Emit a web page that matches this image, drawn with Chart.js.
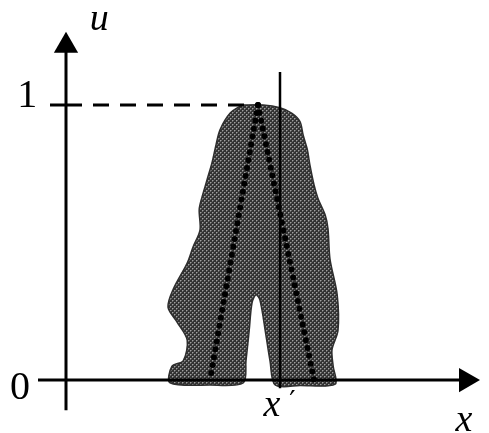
<!DOCTYPE html>
<html>
<head>
<meta charset="utf-8">
<script src="https://cdn.jsdelivr.net/npm/chart.js@4.4.1/dist/chart.umd.min.js"></script>
<style>
    html, body { margin: 0; padding: 0; background: #fff; }
    #wrap { width: 489px; height: 433px; position: relative; }
</style>
</head>
<body>
<div id="wrap"><canvas id="chart"></canvas></div>
<script>
// Footprint of uncertainty, outline traced clockwise from the top (x, u)
const blobX = [4.4, 4.93, 5.35, 5.65, 5.85, 5.93, 6.03, 6.1, 6.2, 6.3, 6.48, 6.55, 6.6, 6.78, 6.8, 6.65, 6.68, 6.73,
    5.85, 5.23, 5.1, 4.98, 4.85, 4.75, 4.65, 4.58, 4.5, 4.43,
    3.6, 2.6, 2.65, 2.93, 3.03, 2.78, 2.55, 2.68, 3.03, 3.18, 3.35, 3.33, 3.4, 3.53, 3.65, 3.75, 3.85, 4.1, 4.4];
const blobU = [1.0, 1.0, 0.99, 0.97, 0.94, 0.89, 0.84, 0.78, 0.71, 0.66, 0.6, 0.55, 0.44, 0.31, 0.18, 0.11, 0.05, -0.015,
    -0.02, -0.018, 0.07, 0.18, 0.29, 0.31, 0.28, 0.18, 0.07, -0.01,
    -0.018, -0.01, 0.05, 0.07, 0.145, 0.21, 0.265, 0.33, 0.425, 0.485, 0.545, 0.62, 0.665, 0.73, 0.79, 0.855, 0.91, 0.97, 1.0];

// Principal membership function (dotted triangle)
const leftX = [4.8, 3.6];
const leftU = [1, 0];
const rightX = [4.8, 6.2];
const rightU = [1, 0];

// Reference lines
const oneLevelX = [0, 4.45];
const oneLevelU = [1, 1];
const primeX = [5.35, 5.35];
const primeU = [-0.03, 1.12];

// Axes
const xAxisX = [-0.7, 10.0];
const xAxisU = [0, 0];
const uAxisX = [0, 0];
const uAxisU = [-0.11, 1.215];
const tickX = [-0.4, 0];
const tickU = [1, 1];

const zip = (xs, ys) => xs.map((x, i) => ({ x: x, y: ys[i] }));

function makePattern() {
    const c = document.createElement('canvas');
    c.width = 4; c.height = 4;
    const g = c.getContext('2d');
    g.fillStyle = '#333333';
    g.fillRect(0, 0, 4, 4);
    g.fillStyle = '#a0a0a0';
    g.fillRect(0, 0, 1, 1);
    g.fillRect(2, 2, 1, 1);
    g.fillStyle = '#676767';
    g.fillRect(1, 0, 1, 1);
    g.fillRect(0, 1, 1, 1);
    g.fillRect(3, 2, 1, 1);
    g.fillRect(2, 3, 1, 1);
    return document.getElementById('chart').getContext('2d').createPattern(c, 'repeat');
}

const labelPlugin = {
    id: 'labels',
    afterDraw(chart) {
        const { ctx, scales: { x, y } } = chart;
        const put = (txt, vx, vy, font) => {
            ctx.font = font;
            ctx.fillText(txt, x.getPixelForValue(vx), y.getPixelForValue(vy));
        };
        ctx.save();
        ctx.fillStyle = '#000';
        ctx.textAlign = 'center';
        ctx.textBaseline = 'middle';
        const roman = '40px "Times New Roman", "Liberation Serif", serif';
        const italic = 'italic 38px "Times New Roman", "Liberation Serif", serif';
        put('u', 0.83, 1.31, italic);
        put('1', -0.97, 1.03, roman);
        put('0', -1.15, -0.03, roman);
        put('x', 9.95, -0.15, italic);
        put('x', 5.15, -0.095, italic);
        put('\u2032', 5.66, -0.085, '28px "DejaVu Serif", serif');
        ctx.restore();
    }
};

const line = (data, extra) => Object.assign({
    data: data,
    showLine: true,
    borderColor: '#000',
    borderWidth: 3,
    pointRadius: 0,
    fill: false,
    tension: 0
}, extra);

new Chart(document.getElementById('chart'), {
    type: 'scatter',
    data: {
        datasets: [
            line(zip(xAxisX, xAxisU), {
                order: 1, borderWidth: 3,
                pointStyle: 'triangle', pointRotation: 90,
                pointRadius: [0, 14], pointBackgroundColor: '#000', pointBorderWidth: 0
            }),
            line(zip(uAxisX, uAxisU), {
                order: 1, borderWidth: 3,
                pointStyle: 'triangle', pointRotation: 0,
                pointRadius: [0, 14], pointBackgroundColor: '#000', pointBorderWidth: 0
            }),
            line(zip(tickX, tickU), { order: 1 }),
            line(zip(oneLevelX, oneLevelU), { order: 2, borderDash: [16, 11] }),
            line(zip(primeX, primeU), { order: 2, borderWidth: 2.5 }),
            line(zip(leftX, leftU), { order: 3, borderWidth: 6, borderDash: [0, 8], borderCapStyle: 'round' }),
            line(zip(rightX, rightU), { order: 3, borderWidth: 6, borderDash: [0, 8], borderCapStyle: 'round' }),
            line(zip(blobX, blobU), {
                order: 10, borderColor: '#2e2e2e', borderWidth: 1.5,
                backgroundColor: makePattern(), fill: 'shape', tension: 0.3
            })
        ]
    },
    options: {
        responsive: true,
        maintainAspectRatio: false,
        animation: false,
        layout: { padding: 0, autoPadding: false },
        plugins: { legend: { display: false }, tooltip: { enabled: false } },
        scales: {
            x: { type: 'linear', display: false, min: -1.65, max: 10.575 },
            y: { type: 'linear', display: false, min: -0.1927, max: 1.3818 }
        }
    },
    plugins: [labelPlugin]
});
</script>
</body>
</html>
